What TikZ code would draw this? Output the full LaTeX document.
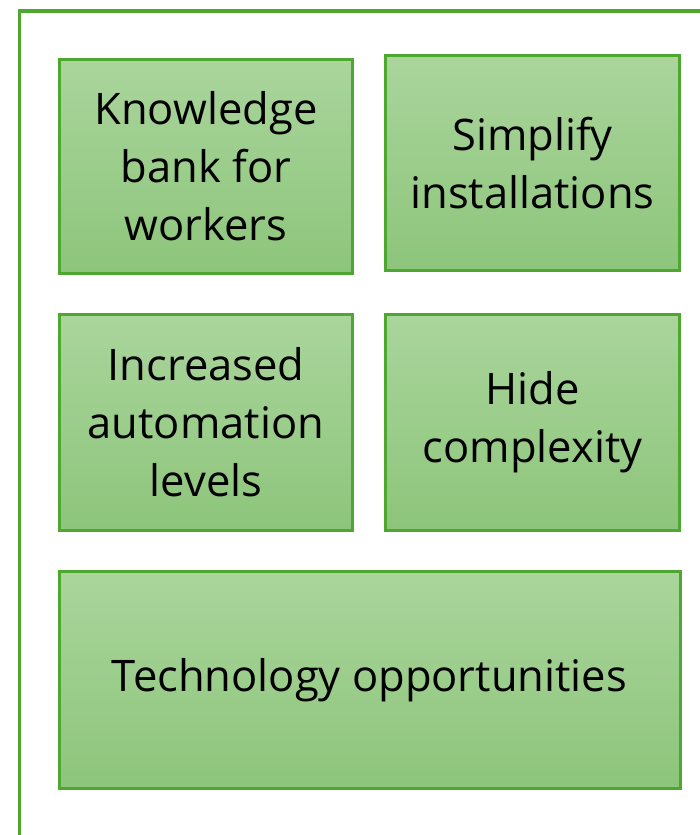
\documentclass[tikz,border=0pt]{standalone}
\usepackage{fontspec}
\setmainfont{Open Sans}
\definecolor{bordergreen}{HTML}{4EA72E}
\definecolor{topgreen}{HTML}{AAD59C}
\definecolor{botgreen}{HTML}{8DC57B}
\tikzset{
  tile/.style={draw=bordergreen, line width=3pt, top color=topgreen, bottom color=botgreen,
    align=center, font=\fontsize{43.5}{58}\selectfont, text=black, inner sep=0pt},
}
\begin{document}
\begin{tikzpicture}[x=1pt,y=-1pt]
\clip (0,0) rectangle (700,835);
\fill[white] (0,0) rectangle (700,835);
\draw[bordergreen, line width=3.2pt] (19.5,11) rectangle (760,900);
\node[tile, minimum width=293pt, minimum height=214pt] (kb) at (206,166) {Knowledge\\bank for\\workers};
\node[tile, minimum width=294pt, minimum height=215pt] (si) at (532.5,163) {Simplify\\installations};
\node[tile, minimum width=293pt, minimum height=216pt] (ia) at (206,422) {Increased\\automation\\levels};
\node[tile, minimum width=294pt, minimum height=216pt] (hc) at (532.5,422) {Hide\\complexity};
\node[tile, minimum width=621pt, minimum height=217pt] (to) at (369.5,680) {Technology opportunities};
\end{tikzpicture}
\end{document}
